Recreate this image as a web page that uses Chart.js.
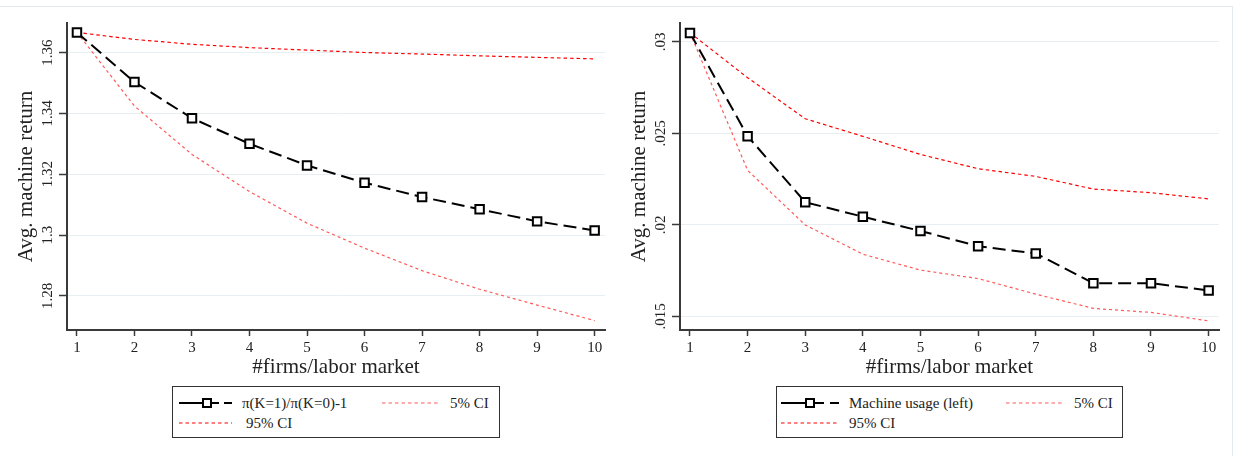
<!DOCTYPE html>
<html>
<head>
<meta charset="utf-8">
<script src="https://cdn.jsdelivr.net/npm/chart.js@4.4.1/dist/chart.umd.min.js"></script>
<style>
body{margin:0;background:#fff;font-family:"Liberation Serif","Times New Roman",serif;}
#page{position:relative;width:1238px;height:456px;overflow:hidden;}
#frame{position:absolute;left:-2px;top:6px;width:1234px;height:470px;border-top:1px solid #e3eaed;border-right:1px solid #e3eaed;}
canvas{position:absolute;top:0;}
.legend{position:absolute;top:386px;height:52px;border:1.5px solid #333;box-sizing:border-box;font-size:15px;color:#222;background:#fff;}
.legend span{position:absolute;white-space:nowrap;line-height:18px;}
.legend svg{position:absolute;}
</style>
</head>
<body>
<div id="page">
<div id="frame"></div>
<canvas id="left" width="613" height="385" style="left:0px"></canvas>
<canvas id="right" width="625" height="385" style="left:613px"></canvas>

<div class="legend" style="left:172px;width:328px">
  <svg style="left:6px;top:11px" width="53" height="10">
    <line x1="0" y1="5" x2="16" y2="5" stroke="#000" stroke-width="2"/>
    <line x1="16" y1="5" x2="40" y2="5" stroke="#000" stroke-width="2"/>
    <line x1="45" y1="5" x2="53" y2="5" stroke="#000" stroke-width="2"/>
    <rect x="24" y="1" width="8" height="8" fill="#fff" stroke="#000" stroke-width="2"/>
  </svg>
  <span style="left:69px;top:7px">π(K=1)/π(K=0)-1</span>
  <svg style="left:209px;top:11px" width="57" height="10">
    <line x1="0" y1="5" x2="57" y2="5" stroke="#ff5a5a" stroke-width="1.2" stroke-dasharray="3.5,3"/>
  </svg>
  <span style="left:277px;top:7px">5% CI</span>
  <svg style="left:6px;top:31px" width="53" height="10">
    <line x1="0" y1="5" x2="53" y2="5" stroke="#ff0000" stroke-width="1.2" stroke-dasharray="3.5,3"/>
  </svg>
  <span style="left:73px;top:27px">95% CI</span>
</div>

<div class="legend" style="left:776px;width:347px">
  <svg style="left:4px;top:11px" width="58" height="10">
    <line x1="0" y1="5" x2="17" y2="5" stroke="#000" stroke-width="2"/>
    <line x1="17" y1="5" x2="43" y2="5" stroke="#000" stroke-width="2"/>
    <line x1="49" y1="5" x2="58" y2="5" stroke="#000" stroke-width="2"/>
    <rect x="25" y="1" width="8" height="8" fill="#fff" stroke="#000" stroke-width="2"/>
  </svg>
  <span style="left:72px;top:7px">Machine usage (left)</span>
  <svg style="left:229px;top:11px" width="58" height="10">
    <line x1="0" y1="5" x2="58" y2="5" stroke="#ff5a5a" stroke-width="1.2" stroke-dasharray="3.5,3"/>
  </svg>
  <span style="left:297px;top:7px">5% CI</span>
  <svg style="left:4px;top:31px" width="58" height="10">
    <line x1="0" y1="5" x2="58" y2="5" stroke="#ff0000" stroke-width="1.2" stroke-dasharray="3.5,3"/>
  </svg>
  <span style="left:72px;top:27px">95% CI</span>
</div>
</div>

<script>
var firms = [1, 2, 3, 4, 5, 6, 7, 8, 9, 10];

// left panel: pi(K=1)/pi(K=0)-1
var returnRatio = [1.3666, 1.3503, 1.3384, 1.3300, 1.3229, 1.3172, 1.3125, 1.3085, 1.3045, 1.3015];
var returnCI5   = [1.3666, 1.3424, 1.3265, 1.3143, 1.3039, 1.2957, 1.2883, 1.2822, 1.2770, 1.2719];
var returnCI95  = [1.3666, 1.3643, 1.3627, 1.3616, 1.3608, 1.3600, 1.3595, 1.3589, 1.3584, 1.3579];
var leftTicks = [1.28, 1.30, 1.32, 1.34, 1.36];
var leftTickLabels = ['1.28', '1.3', '1.32', '1.34', '1.36'];

// right panel: machine usage
var usage     = [0.03049, 0.02485, 0.02124, 0.02045, 0.01967, 0.01884, 0.01844, 0.01682, 0.01682, 0.01642];
var usageCI5  = [0.03050, 0.02298, 0.02000, 0.01840, 0.01753, 0.01707, 0.01622, 0.01544, 0.01522, 0.01476];
var usageCI95 = [0.03050, 0.02804, 0.02580, 0.02484, 0.02385, 0.02307, 0.02265, 0.02196, 0.02176, 0.02142];
var rightTicks = [0.015, 0.02, 0.025, 0.03];
var rightTickLabels = ['.015', '.02', '.025', '.03'];

var serif = 'Liberation Serif';
var axisColor = '#3a3a3a';

function points(vals) {
    var out = [];
    for (var i = 0; i < firms.length; i++) {
        out.push({x: firms[i], y: vals[i]});
    }
    return out;
}

function drawPanel(id, main, lo, hi, yMin, yMax, ticks, tickLabels, padRight) {
    var ctx = document.getElementById(id).getContext('2d');
    return new Chart(ctx, {
        type: 'line',
        data: {
            datasets: [{
                data: points(main),
                borderColor: '#000',
                borderWidth: 2,
                borderDash: [13, 6],
                pointStyle: 'rect',
                pointRadius: 6,
                pointBorderWidth: 2,
                pointBorderColor: '#000',
                pointBackgroundColor: '#fff',
                tension: 0
            }, {
                data: points(lo),
                borderColor: '#ff5a5a',
                borderWidth: 1.2,
                borderDash: [3, 3],
                pointRadius: 0,
                tension: 0
            }, {
                data: points(hi),
                borderColor: '#ff0000',
                borderWidth: 1.2,
                borderDash: [3.5, 3],
                pointRadius: 0,
                tension: 0
            }]
        },
        options: {
            responsive: false,
            animation: false,
            devicePixelRatio: 1,
            layout: {padding: {top: 23, right: padRight, left: 0, bottom: 0}},
            plugins: {legend: {display: false}, tooltip: {enabled: false}},
            scales: {
                x: {
                    type: 'linear',
                    min: 0.827,
                    max: 10.18,
                    afterBuildTicks: function(s) {
                        s.ticks = firms.map(function(v) { return {value: v}; });
                    },
                    afterFit: function(s) { s.height = 55; },
                    grid: {drawOnChartArea: false, tickLength: 6, tickColor: axisColor, tickWidth: 1.5},
                    border: {color: axisColor, width: 2},
                    ticks: {font: {family: serif, size: 15}, color: '#222', maxRotation: 0, autoSkip: false, padding: 3},
                    title: {display: true, text: '#firms/labor market', color: '#222',
                        font: {family: serif, size: 21}, padding: {top: 0, bottom: 5}}
                },
                y: {
                    min: yMin,
                    max: yMax,
                    afterBuildTicks: function(s) {
                        s.ticks = ticks.map(function(v) { return {value: v}; });
                    },
                    afterFit: function(s) { s.width = 67; },
                    grid: {color: '#e8eff2', lineWidth: 1, tickLength: 8, tickColor: axisColor, tickWidth: 1.5},
                    border: {color: axisColor, width: 2},
                    ticks: {
                        font: {family: serif, size: 15}, color: '#222',
                        minRotation: 90, maxRotation: 90, crossAlign: 'center', padding: -2,
                        callback: function(v) { return tickLabels[ticks.indexOf(v)]; }
                    },
                    title: {display: true, text: 'Avg. machine return', color: '#222',
                        font: {family: serif, size: 21}, padding: {top: 14, bottom: 0}}
                }
            }
        }
    });
}

drawPanel('left', returnRatio, returnCI5, returnCI95, 1.2688, 1.3697, leftTicks, leftTickLabels, 6);
drawPanel('right', usage, usageCI5, usageCI95, 0.01426, 0.03103, rightTicks, rightTickLabels, 19);
</script>
</body>
</html>
